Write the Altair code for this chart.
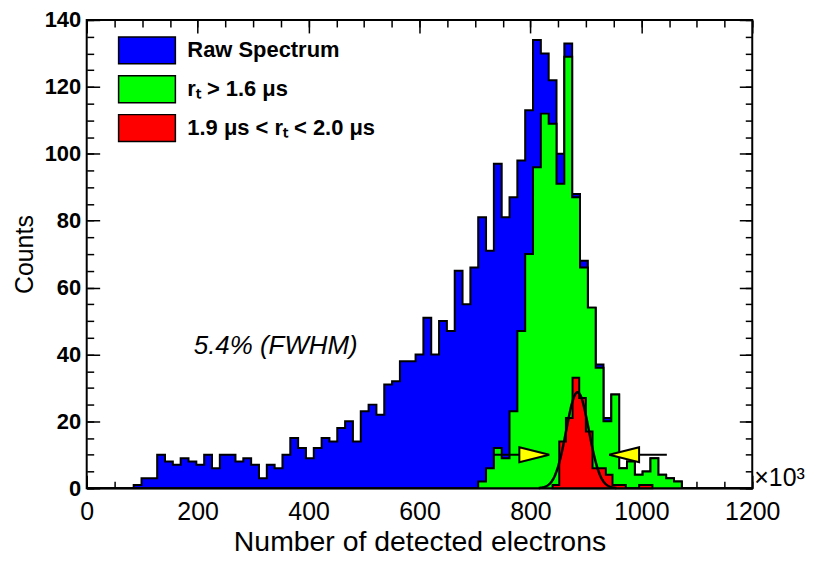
import numpy as np
import pandas as pd
import altair as alt

# ---------------- data ----------------
N_BINS = 85
X_MIN, X_MAX = 0, 1200
Y_MIN, Y_MAX = 0, 140

# Raw spectrum (85 bins over 0..1200 x10^3), bins 6..75 non-zero
raw_nonzero = [1, 3, 3, 10, 8, 7, 9, 8, 7, 10,
               6, 10, 10, 8, 9, 7, 3, 7, 6, 10,
               15, 12, 9, 12, 15, 14, 18, 20, 14, 23,
               25, 22, 31, 32, 38, 38, 40, 51, 40, 50,
               47, 65, 55, 66, 81, 71, 97, 81, 87, 98,
               113, 134, 130, 122, 100, 133, 88, 68, 54, 37,
               21, 28, 6, 8, 4, 5, 9, 4, 3, 2]
raw_counts = [0] * 6 + raw_nonzero + [0] * 9

# r_t > 1.6 us (same binning), bins 50..75 non-zero
green_nonzero = [2, 6, 12, 9, 23, 47, 70, 96, 112, 109,
                 91, 129, 87, 66, 54, 36, 20, 28, 6, 8,
                 4, 5, 9, 4, 3, 2]
green_counts = [0] * 50 + green_nonzero + [0] * 9

# 1.9 us < r_t < 2.0 us (12-unit bins starting at 840)
red_start = 840
red_width = 12
red_counts = [1, 14, 21, 33, 27, 17, 6, 6, 4, 1, 1, 0, 0, 1, 1]

# Gaussian fit parameters
fit_mean = 885.0
fit_sigma = 20.3
fit_amp = 28.7
fit_range = [815, 955]

# FWHM window arrows
arrow_y = [10, 10]
arrow_tail = [734, 1046]
arrow_center = [807, 969]

series_names = ["Raw Spectrum", "r\u209c > 1.6 \u03bcs", "1.9 \u03bcs < r\u209c < 2.0 \u03bcs"]
series_colors = ["#0000ff", "#00ff00", "#ff0000"]

fwhm_text = ["5.4% (FWHM)"]
fwhm_pos = [193, 42.4]

x_major = [0, 200, 400, 600, 800, 1000, 1200]
x_minor = list(range(0, 1201, 50))
y_major = [0, 20, 40, 60, 80, 100, 120, 140]
y_minor = list(range(0, 141, 5))

FONT = "Liberation Sans"
W, H = 668, 470

# ---------------- build tables ----------------
def step_table(edges, counts, name):
    xs_ = list(edges[:-1]) + [edges[-1]]
    ys_ = list(counts) + [0]
    return pd.DataFrame({"x": xs_, "y": ys_, "series": name})

edges85 = [X_MIN + i * (X_MAX - X_MIN) / N_BINS for i in range(N_BINS + 1)]
blue_df = step_table(edges85, raw_counts, series_names[0])
green_df = step_table(edges85, green_counts, series_names[1])
red_edges = [red_start + k * red_width for k in range(len(red_counts) + 1)]
red_df = step_table(red_edges, red_counts, series_names[2])

gx = np.arange(fit_range[0], fit_range[1] + 0.5, 1.0)
gauss_df = pd.DataFrame({"x": gx, "y": fit_amp * np.exp(-0.5 * ((gx - fit_mean) / fit_sigma) ** 2)})

arrow_df = pd.DataFrame({"x": arrow_tail, "x2": arrow_center, "y": arrow_y})
head_r = pd.DataFrame({"x": [arrow_center[0]], "y": [arrow_y[0]]})
head_l = pd.DataFrame({"x": [arrow_center[1]], "y": [arrow_y[1]]})
text_df = pd.DataFrame({"x": [fwhm_pos[0]], "y": [fwhm_pos[1]], "t": fwhm_text})
exp_df = pd.DataFrame({"x": [X_MAX], "y": [Y_MIN], "t": ["\u00d710\u00b3"]})
dummy = pd.DataFrame({"x": [X_MIN, X_MAX], "y": [Y_MIN, Y_MAX]})

xs = alt.Scale(domain=[X_MIN, X_MAX], nice=False, zero=False)
ys = alt.Scale(domain=[Y_MIN, Y_MAX], nice=False, zero=False)

fill_enc = alt.Fill(
    "series:N",
    scale=alt.Scale(domain=series_names, range=series_colors),
    legend=alt.Legend(
        orient="none", legendX=46, legendY=16, title=None,
        symbolType="M -2.11 -1 L 2.11 -1 L 2.11 1 L -2.11 1 Z",
        symbolSize=729, symbolStrokeColor="black", symbolStrokeWidth=1.5,
        symbolOpacity=1, labelFont=FONT, labelFontWeight="bold",
        labelFontSize=22, labelColor="black", rowPadding=6, labelOffset=26,
        labelLimit=400,
    ),
)

def area(df):
    return alt.Chart(df).mark_area(
        interpolate="step-after", stroke="black", strokeWidth=2, fillOpacity=1
    ).encode(
        x=alt.X("x:Q", scale=xs, axis=None),
        y=alt.Y("y:Q", scale=ys, axis=None, stack=None),
        fill=fill_enc,
    )

gauss = alt.Chart(gauss_df).mark_line(color="black", strokeWidth=2.5).encode(
    x=alt.X("x:Q", scale=xs, axis=None), y=alt.Y("y:Q", scale=ys, axis=None))

arrow_lines = alt.Chart(arrow_df).mark_rule(color="black", strokeWidth=2).encode(
    x=alt.X("x:Q", scale=xs, axis=None), x2="x2:Q", y=alt.Y("y:Q", scale=ys, axis=None))

def head(df, path):
    return alt.Chart(df).mark_point(
        shape=path, size=900, filled=True, fill="#ffff00", stroke="black",
        strokeWidth=2, opacity=1,
    ).encode(x=alt.X("x:Q", scale=xs, axis=None), y=alt.Y("y:Q", scale=ys, axis=None))

head_right = head(head_r, "M -1 -0.5 L 1 0 L -1 0.5 Z")
head_left = head(head_l, "M 1 -0.5 L -1 0 L 1 0.5 Z")

fwhm = alt.Chart(text_df).mark_text(
    align="left", baseline="middle", font=FONT, fontSize=26, fontStyle="italic", color="black"
).encode(x=alt.X("x:Q", scale=xs, axis=None), y=alt.Y("y:Q", scale=ys, axis=None), text="t:N")

expo = alt.Chart(exp_df).mark_text(
    align="left", baseline="middle", font=FONT, fontSize=25, color="black", dx=2, dy=-10
).encode(x=alt.X("x:Q", scale=xs, axis=None), y=alt.Y("y:Q", scale=ys, axis=None), text="t:N")

main_axes = alt.Chart(dummy).mark_point(opacity=0).encode(
    x=alt.X("x:Q", scale=xs, axis=alt.Axis(
        orient="bottom", values=x_major, format="d", labelFlush=False, ticks=False,
        tickSize=0, domain=False, grid=False,
        labelFont=FONT, labelFontSize=25, labelColor="black", labelPadding=11,
        title="Number of detected electrons", titleFont=FONT, titleFontSize=28.5,
        titleFontWeight="normal", titleColor="black", titlePadding=3)),
    y=alt.Y("y:Q", scale=ys, axis=alt.Axis(
        orient="left", values=y_major, format="d", labelFlush=False, ticks=False,
        tickSize=0, domain=False, grid=False,
        labelFont=FONT, labelFontSize=22, labelFontWeight="bold", labelColor="black",
        labelPadding=6, title="Counts", titleFont=FONT, titleFontSize=25,
        titleFontWeight="normal", titleColor="black", titlePadding=7)),
)

def tick_layer(channel, orient, values, size):
    ax = alt.Axis(orient=orient, values=values, tickSize=size, offset=-size, labels=False,
                  domain=False, grid=False, title=None, ticks=True, tickColor="black",
                  tickWidth=1.5)
    if channel == "x":
        enc = dict(x=alt.X("x:Q", scale=xs, axis=ax), y=alt.Y("y:Q", scale=ys, axis=None))
    else:
        enc = dict(x=alt.X("x:Q", scale=xs, axis=None), y=alt.Y("y:Q", scale=ys, axis=ax))
    return alt.Chart(dummy).mark_point(opacity=0).encode(**enc)

tick_layers = []
for orient in ["bottom", "top"]:
    tick_layers.append(tick_layer("x", orient, x_major, 13))
    tick_layers.append(tick_layer("x", orient, x_minor, 7))
for orient in ["left", "right"]:
    tick_layers.append(tick_layer("y", orient, y_major, 13))
    tick_layers.append(tick_layer("y", orient, y_minor, 7))

chart = alt.layer(
    area(blue_df), area(green_df), area(red_df), gauss, arrow_lines,
    head_right, head_left, fwhm, expo, main_axes, *tick_layers
).resolve_axis(x="independent", y="independent").properties(
    width=W, height=H,
    autosize=alt.AutoSizeParams(type="none"),
    padding={"left": 79, "top": 11, "right": 70, "bottom": 70},
).configure_view(stroke="black", strokeWidth=2)

chart.save("out.html", embed_options={"renderer": "svg", "actions": False})
